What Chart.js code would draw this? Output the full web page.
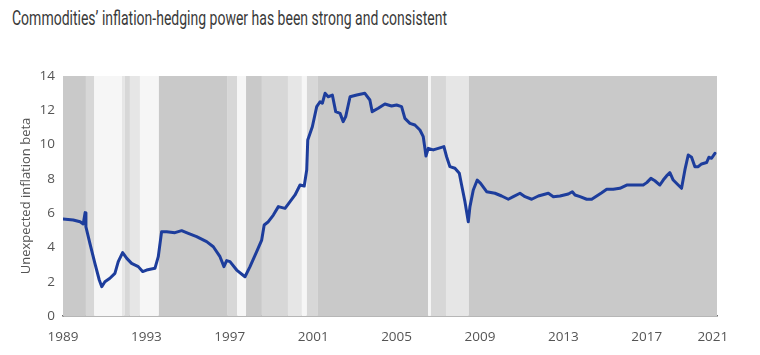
<!DOCTYPE html>
<html>
<head>
<meta charset="utf-8">
<script src="https://cdn.jsdelivr.net/npm/chart.js@4/dist/chart.umd.min.js"></script>
<style>
  html, body { margin: 0; padding: 0; background: #fff; }
  #wrap { position: relative; width: 760px; height: 355px; overflow: hidden; }
  #title { position: absolute; left: 12px; top: 5px; font-family: Roboto, "Liberation Sans", sans-serif; font-size: 21px; line-height: 26px; color: #3a3a3a; white-space: nowrap; transform-origin: 0 0; }
  canvas { position: absolute; left: 0; top: 0; }
</style>
</head>
<body>
<div id="wrap">
  <div id="title"><span id="titleText">Commodities’ inflation-hedging power has been strong and consistent</span></div>
  <canvas id="c" width="760" height="355"></canvas>
</div>
<script>
// ---- Data ----
const years = [1989.00,1989.49,1989.82,1989.97,1990.06,1990.10,1990.29,1990.53,1990.74,1990.86,
  1991.01,1991.25,1991.49,1991.65,1991.86,1992.06,1992.29,1992.61,1992.82,1993.01,
  1993.41,1993.57,1993.73,1993.97,1994.37,1994.69,1995.01,1995.41,1995.89,1996.21,
  1996.53,1996.72,1996.85,1997.01,1997.33,1997.73,1997.97,1998.29,1998.53,1998.65,
  1998.85,1999.09,1999.33,1999.65,1999.89,2000.13,2000.37,2000.57,2000.69,2000.74,
  2000.96,2001.17,2001.33,2001.44,2001.57,2001.72,2001.92,2002.08,2002.29,2002.44,
  2002.56,2002.77,2003.09,2003.48,2003.72,2003.83,2004.12,2004.44,2004.76,2005.00,
  2005.24,2005.40,2005.64,2005.88,2006.12,2006.28,2006.36,2006.41,2006.52,2006.76,
  2007.00,2007.27,2007.40,2007.56,2007.80,2008.01,2008.12,2008.28,2008.44,2008.52,
  2008.68,2008.87,2009.03,2009.32,2009.72,2010.04,2010.36,2010.60,2010.92,2011.16,
  2011.48,2011.80,2012.28,2012.52,2012.84,2013.24,2013.43,2013.56,2013.80,2014.12,
  2014.36,2014.60,2014.84,2015.08,2015.39,2015.71,2016.04,2016.43,2016.83,2017.00,
  2017.20,2017.39,2017.63,2017.79,2017.95,2018.11,2018.27,2018.51,2018.67,2018.83,
  2018.99,2019.15,2019.31,2019.47,2019.63,2019.87,2019.98,2020.11,2020.27];
const beta = [5.66,5.60,5.50,5.37,6.03,5.20,4.24,3.07,2.10,1.71,
  2.00,2.20,2.49,3.17,3.70,3.36,3.07,2.88,2.59,2.68,
  2.78,3.46,4.92,4.92,4.86,4.98,4.82,4.63,4.34,4.04,
  3.46,2.88,3.23,3.17,2.68,2.29,2.88,3.75,4.43,5.31,
  5.50,5.89,6.38,6.28,6.67,7.06,7.64,7.58,8.52,10.27,
  11.04,12.21,12.50,12.41,12.99,12.79,12.89,11.92,11.82,11.34,
  11.63,12.79,12.89,12.99,12.60,11.92,12.12,12.37,12.25,12.31,
  12.21,11.53,11.24,11.14,10.85,10.46,9.78,9.33,9.78,9.69,
  9.78,9.88,9.29,8.71,8.62,8.33,7.64,6.67,5.50,6.38,
  7.35,7.93,7.74,7.25,7.16,7.00,6.81,6.96,7.16,6.96,
  6.81,7.00,7.16,6.96,7.00,7.12,7.25,7.06,6.96,6.81,
  6.81,7.00,7.19,7.39,7.39,7.45,7.64,7.64,7.64,7.78,
  8.03,7.89,7.64,7.93,8.17,8.36,7.93,7.64,7.45,8.52,
  9.39,9.26,8.71,8.71,8.87,8.95,9.26,9.20,9.49];

// Background regime bands: start, end (years) and shade
const bandStart = [1989.00,1990.10,1990.49,1991.83,1991.97,1992.21,1992.69,1993.60,1996.87,1997.35,1997.78,1998.54,1999.79,2000.46,2000.70,2001.23,2006.51,2006.65,2007.37,2008.47];
const bandEnd   = [1990.10,1990.49,1991.83,1991.97,1992.21,1992.69,1993.60,1996.87,1997.35,1997.78,1998.54,1999.79,2000.46,2000.70,2001.23,2006.51,2006.65,2007.37,2008.47,2020.37];
const bandShade = ['dark','medium','white','light','medium','light','white','dark','medium','white','dark','medium','light','white','medium','dark','white','medium','light','dark'];

const tickPositions = [1989,1993,1997,2001,2005,2009,2013,2017,2020.17];
const tickLabels = ['1989','1993','1997','2001','2005','2009','2013','2017','2021'];
const yTicks = [0,2,4,6,8,10,12,14];

const xMin = 1989, xMax = 2020.37;
const shadeColors = { dark: '#c9c9c9', medium: '#d7d7d7', light: '#e6e6e6', white: '#f6f6f6' };

// Title width fit (reference title is a condensed face)
(function(){
  const t = document.getElementById('titleText');
  const w = t.getBoundingClientRect().width;
  document.getElementById('title').style.transform = 'scaleX(' + (435 / w) + ')';
})();

const bandsPlugin = {
  id: 'bands',
  beforeDatasetsDraw(chart) {
    const { ctx, chartArea, scales } = chart;
    const x = scales.x;
    ctx.save();
    for (let i = 0; i < bandStart.length; i++) {
      const x0 = x.getPixelForValue(bandStart[i]);
      const x1 = x.getPixelForValue(bandEnd[i]);
      ctx.fillStyle = shadeColors[bandShade[i]];
      ctx.fillRect(x0, chartArea.top, x1 - x0, chartArea.bottom - chartArea.top);
    }
    ctx.restore();
  }
};

const points = years.map((y, i) => ({ x: y, y: beta[i] }));

new Chart(document.getElementById('c'), {
  type: 'line',
  data: {
    datasets: [{
      data: points,
      borderColor: '#1d3d9c',
      borderWidth: 3,
      borderJoinStyle: 'round',
      borderCapStyle: 'round',
      pointRadius: 0,
      tension: 0,
      fill: false
    }]
  },
  options: {
    responsive: false,
    animation: false,
    layout: { padding: { top: 76, right: 43, left: 0, bottom: 0 } },
    plugins: { legend: { display: false }, tooltip: { enabled: false } },
    scales: {
      x: {
        type: 'linear',
        min: xMin, max: xMax,
        afterBuildTicks(scale) { scale.ticks = tickPositions.map(v => ({ value: v })); },
        afterFit(scale) { scale.height = 39; },
        grid: { display: false, drawTicks: false },
        border: { display: true, color: '#6e6e6e', width: 1.5 },
        ticks: {
          autoSkip: false, maxRotation: 0, padding: 13,
          color: '#555', font: { family: 'Open Sans', size: 13.5 },
          callback(v) { const i = tickPositions.indexOf(v); return i >= 0 ? tickLabels[i] : ''; }
        }
      },
      y: {
        min: 0, max: 14,
        afterBuildTicks(scale) { scale.ticks = yTicks.map(v => ({ value: v })); },
        afterFit(scale) { scale.width = 63; },
        grid: { display: false, drawTicks: false },
        border: { display: true, color: '#9a9a9a', width: 1 },
        ticks: { padding: 8, color: '#555', font: { family: 'Open Sans', size: 13.5 } },
        title: {
          display: true, text: 'Unexpected inflation beta',
          color: '#555', font: { family: 'Open Sans', size: 13 },
          padding: { top: 18, bottom: 0 }
        }
      }
    }
  },
  plugins: [bandsPlugin]
});
</script>
</body>
</html>
